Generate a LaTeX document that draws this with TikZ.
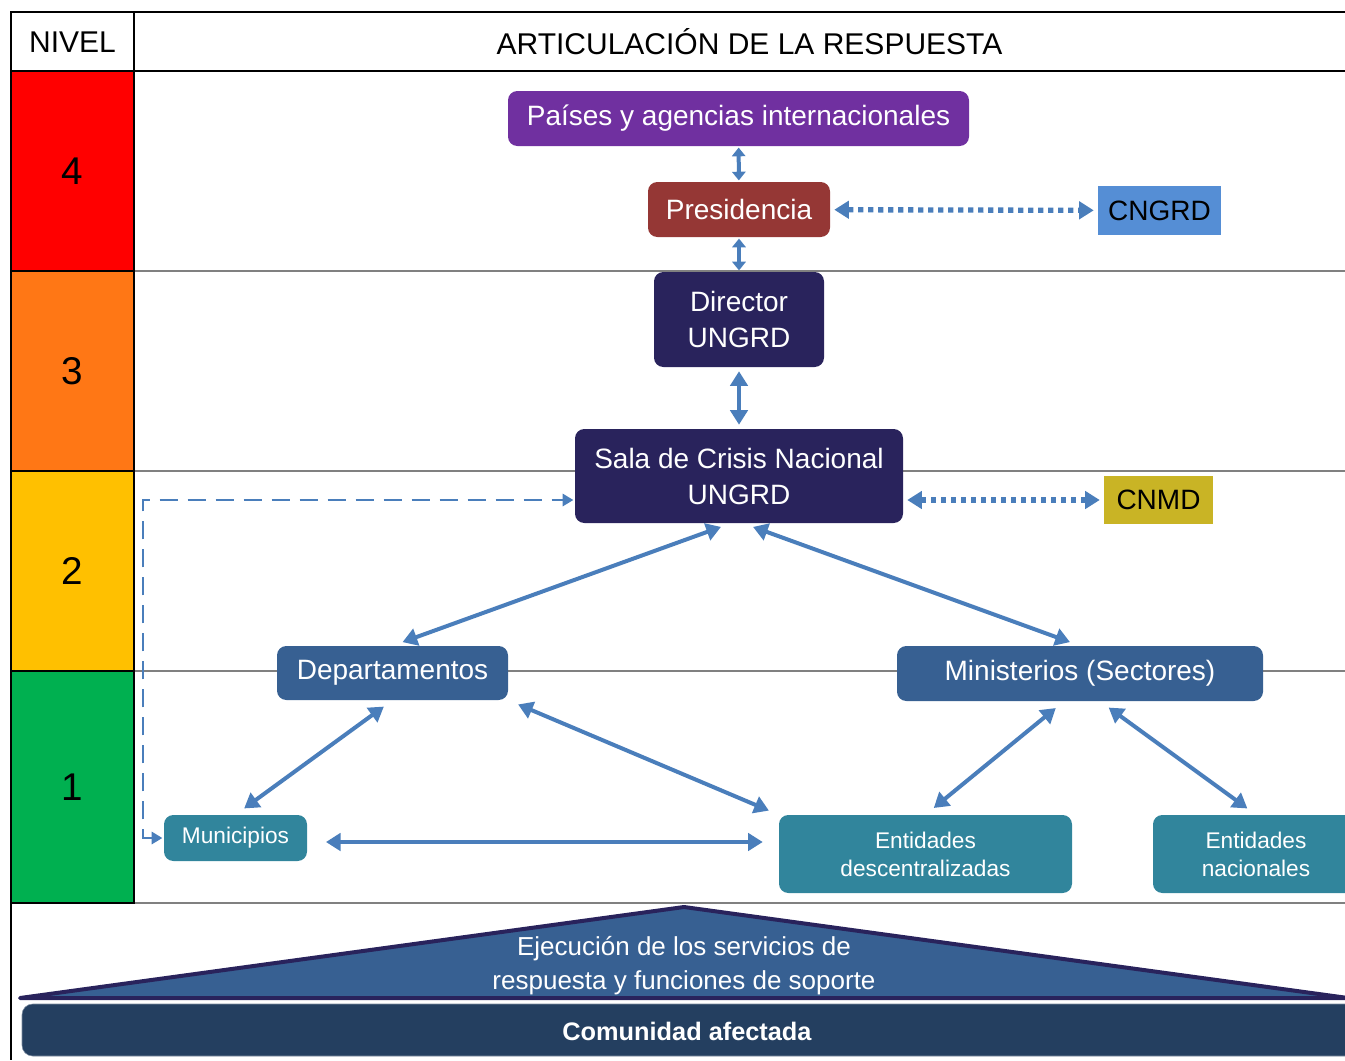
\documentclass[tikz,border=0pt]{standalone}
\usepackage{fontspec}
\setmainfont{Liberation Sans}
\usetikzlibrary{arrows.meta,positioning}

\definecolor{lvred}{HTML}{FF0000}
\definecolor{lvorange}{HTML}{FF7715}
\definecolor{lvyellow}{HTML}{FFC000}
\definecolor{lvgreen}{HTML}{00B050}
\definecolor{purplebox}{HTML}{7030A0}
\definecolor{redbox}{HTML}{953735}
\definecolor{lightblue}{HTML}{558ED5}
\definecolor{navybox}{HTML}{29235C}
\definecolor{olivebox}{HTML}{C9B425}
\definecolor{steelbox}{HTML}{376092}
\definecolor{tealbox}{HTML}{31859C}
\definecolor{darkbar}{HTML}{243F60}
\definecolor{arrowblue}{HTML}{4A7EBB}

\begin{document}
\begin{tikzpicture}[x=0.75pt,y=-0.75pt,
    box/.style={rounded corners=7pt, text=white, align=center, inner sep=0pt},
    bigtext/.style={font=\fontsize{21}{27}\selectfont},
    smalltext/.style={font=\fontsize{17}{21}\selectfont},
    link/.style={draw=arrowblue, line width=3pt, {Triangle[length=11pt,width=13pt]}-{Triangle[length=11pt,width=13pt]}, shorten <=3pt, shorten >=3pt},
    shortlink/.style={draw=arrowblue, line width=3pt, {Triangle[length=6.5pt,width=10pt]}-{Triangle[length=6.5pt,width=10pt]}, shorten <=1pt, shorten >=1pt},
    farlink/.style={link, shorten <=8pt, shorten >=8pt},
    dotlink/.style={link, line width=4pt, dash pattern=on 4pt off 3.5pt},
    dashlink/.style={draw=arrowblue, line width=2pt, dash pattern=on 14pt off 7pt, {Triangle[length=8pt,width=9pt]}-{Triangle[length=8pt,width=9pt]}, shorten <=1pt, shorten >=1pt}]

    \useasboundingbox (0,0) rectangle (1345,1060);

    % Table
    \draw[line width=1.5pt] (1345,12) -- (11,12) -- (11,903);
    \draw[line width=1pt] (11,903) -- (11,1060);
    \draw[line width=1.5pt] (11,71) -- (1345,71);
    \draw[line width=1.5pt] (134,12) -- (134,903);
    \foreach \y in {271,471,671} {
        \draw[gray, line width=1.2pt] (134,\y) -- (1345,\y);
    }
    \draw[gray, line width=2pt] (134,903) -- (1345,903);

    \node (nivel) at (72.5,42) {\fontsize{22.5}{27}\selectfont NIVEL};
    \node (articulacion) at (749.5,42) {\fontsize{22.5}{27}\selectfont ARTICULACIÓN DE LA RESPUESTA};

    % Levels
    \foreach \lvl/\ya/\yb/\col in {4/71/271/lvred, 3/271/471/lvorange, 2/471/671/lvyellow, 1/671/903/lvgreen} {
        \draw[line width=1.5pt, fill=\col] (11,\ya) rectangle (134,\yb);
        \node (level\lvl) at (72.5, {(\ya+\yb)/2}) {\fontsize{29}{34}\selectfont \lvl};
    }

    % Boxes
    \node[box, bigtext, fill=purplebox, minimum width=345.75pt, minimum height=41.25pt] (paises) at (738.5,118.5) {Países y agencias internacionales};
    \node[box, bigtext, fill=redbox, minimum width=136.5pt, minimum height=41.25pt] (presidencia) at (739,209.5) {Presidencia};
    \node[bigtext, fill=lightblue, inner sep=0pt, minimum width=92.25pt, minimum height=36.75pt] (cngrd) at (1159.5,210.5) {CNGRD};
    \node[box, bigtext, fill=navybox, minimum width=127.5pt, minimum height=71.25pt] (director) at (739,319.5) {Director\\UNGRD};
    \node[box, bigtext, fill=navybox, minimum width=246pt, minimum height=70.5pt] (sala) at (739,476) {Sala de Crisis Nacional\\UNGRD};
    \node[bigtext, fill=olivebox, inner sep=0pt, minimum width=81.75pt, minimum height=36pt] (cnmd) at (1158.5,500) {CNMD};
    \node[box, bigtext, fill=steelbox, minimum width=173.25pt, minimum height=40.5pt] (departamentos) at (392.5,673) {Departamentos};
    \node[box, bigtext, fill=steelbox, minimum width=274.5pt, minimum height=41.25pt] (ministerios) at (1080,673.5) {Ministerios (Sectores)};
    \node[box, smalltext, fill=tealbox, minimum width=107.25pt, minimum height=34.5pt] (municipios) at (235.5,838) {Municipios};
    \node[box, smalltext, fill=tealbox, minimum width=219.75pt, minimum height=58.5pt] (descentral) at (925.5,854) {Entidades\\descentralizadas};
    \node[box, smalltext, fill=tealbox, minimum width=154.5pt, minimum height=58.5pt] (nacionales) at (1256,854) {Entidades\\nacionales};

    % Connectors
    \draw[shortlink] (paises) -- (presidencia);
    \draw[shortlink] (presidencia) -- (director);
    \draw[link] (director) -- (sala);
    \draw[dotlink] (presidencia) -- (cngrd);
    \draw[dotlink] (cnmd.west -| sala.east) -- (cnmd);
    \draw[farlink] ([xshift=-6pt]sala.south) -- (departamentos.north);
    \draw[farlink] ([xshift=3pt]sala.south) -- (ministerios.north);
    \draw[farlink] (departamentos.south) -- (municipios.north);
    \draw[farlink] (departamentos.south east) -- (descentral.north west);
    \draw[farlink] ([xshift=-12pt]ministerios.south) -- (descentral.north);
    \draw[farlink] ([xshift=15pt]ministerios.south) -- (nacionales.north);
    \draw[link, shorten <=14pt, shorten >=12pt] ([yshift=-3pt]municipios.east) -- ([yshift=-3pt]municipios.east -| descentral.west);
    \coordinate (dashturn) at (143,500);
    \draw[dashlink] (municipios.west) -- (municipios.west -| dashturn) -- (dashturn) -- (dashturn -| sala.west);

    % Base
    \draw[fill=steelbox, draw=navybox, line width=3pt, line join=round] (20,998) -- (684,907) -- (1348,998) -- cycle;
    \node[text=white, align=center, font=\fontsize{19.5}{25.5}\selectfont] (servicios) at (684,966) {Ejecución de los servicios de\\respuesta y funciones de soporte};
    \draw[fill=darkbar, draw=darkbar!60!white, rounded corners=8pt] (22,1004) rectangle (1370,1056);
    \node[text=white, font=\fontsize{19}{22}\selectfont\bfseries] (comunidad) at (687,1031) {Comunidad afectada};
\end{tikzpicture}
\end{document}
